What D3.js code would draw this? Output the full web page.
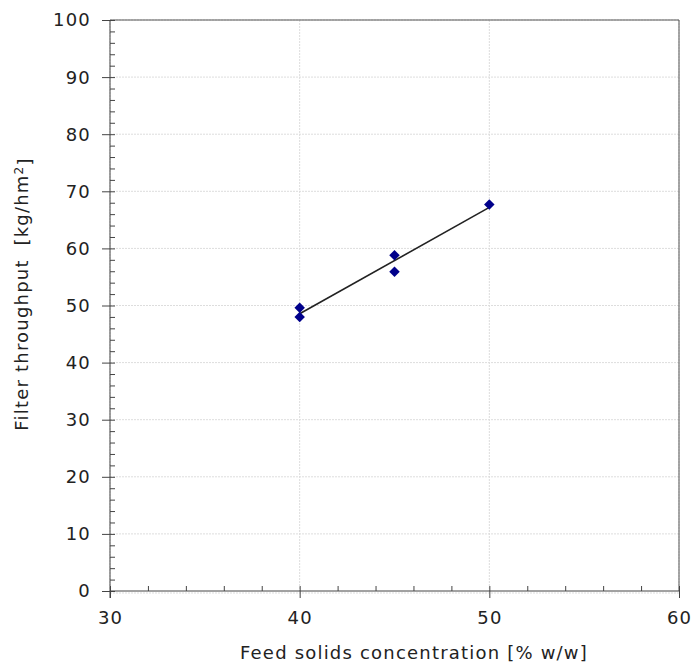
<!DOCTYPE html>
<html>
<head>
<meta charset="utf-8">
<script src="https://cdn.jsdelivr.net/npm/d3@7"></script>
<style>
  body { margin: 0; background: #fff; }
  text { font-family: "DejaVu Sans", Verdana, sans-serif; fill: #222; letter-spacing: 1.2px; }
</style>
</head>
<body>
<div id="chart"></div>
<script>
// measured points
var concentration = [40, 40, 45, 45, 50];
var throughput = [49.6, 48.0, 58.8, 55.9, 67.7];
var xTicks = [30, 40, 50, 60];
var yTicks = [0, 10, 20, 30, 40, 50, 60, 70, 80, 90, 100];

var W = 694, H = 664;
var pLeft = 110, pRight = 679, pTop = 20, pBottom = 591;

var svg = d3.select("#chart").append("svg")
    .attr("width", W).attr("height", H);

var x = d3.scaleLinear().domain([30, 60]).range([pLeft, pRight]);
var y = d3.scaleLinear().domain([0, 100]).range([pBottom, pTop]);

// grid
svg.append("g").selectAll("line").data(xTicks).enter().append("line")
    .attr("x1", function(d) { return x(d); }).attr("x2", function(d) { return x(d); })
    .attr("y1", pTop).attr("y2", pBottom)
    .attr("stroke", "#ddd").attr("stroke-dasharray", "2,1");
svg.append("g").selectAll("line").data(yTicks).enter().append("line")
    .attr("y1", function(d) { return y(d) + (d === 0 ? 2 : 0); })
    .attr("y2", function(d) { return y(d) + (d === 0 ? 2 : 0); })
    .attr("x1", pLeft).attr("x2", pRight)
    .attr("stroke", "#ddd").attr("stroke-dasharray", "2,1");

// frame
svg.append("line").attr("x1", pLeft).attr("x2", pRight).attr("y1", pTop).attr("y2", pTop)
    .attr("stroke", "#555");
svg.append("line").attr("x1", pRight).attr("x2", pRight).attr("y1", pTop).attr("y2", pBottom)
    .attr("stroke", "#555");

// x axis: majors cross, minors inside
var xa = svg.append("g").attr("transform", "translate(0," + pBottom + ")");
xa.call(d3.axisBottom(x).tickValues(d3.range(30, 61, 2)).tickSize(-5).tickFormat(""));
xa.selectAll(".tick").filter(function(d) { return d % 10 === 0; }).select("line")
    .attr("y1", -5).attr("y2", 7);
xa.select(".domain").remove();
xa.append("line").attr("x1", pLeft).attr("x2", pRight);
xa.selectAll("line").attr("stroke", "#444");
xa.selectAll("text.lbl").data(xTicks).enter().append("text").attr("class", "lbl")
    .attr("x", function(d) { return x(d) + 0.6; }).attr("y", 33)
    .attr("text-anchor", "middle").style("font-size", "18px").text(function(d) { return d; });

// y axis
var ya = svg.append("g").attr("transform", "translate(" + pLeft + ",0)");
ya.call(d3.axisLeft(y).tickValues(d3.range(0, 101, 2)).tickSize(-5).tickFormat(""));
ya.selectAll(".tick").filter(function(d) { return d % 10 === 0; }).select("line")
    .attr("x1", 5).attr("x2", -8);
ya.select(".domain").remove();
ya.append("line").attr("y1", pTop).attr("y2", pBottom + 7);
ya.selectAll("line").attr("stroke", "#444");
ya.selectAll("text.lbl").data(yTicks).enter().append("text").attr("class", "lbl")
    .attr("x", -19).attr("y", function(d) { return y(d); }).attr("dy", "0.36em")
    .attr("text-anchor", "end").style("font-size", "18px").text(function(d) { return d; });

// trend line (least squares)
var mx = d3.mean(concentration), my = d3.mean(throughput);
var sxy = d3.sum(concentration, function(c, i) { return (c - mx) * (throughput[i] - my); });
var sxx = d3.sum(concentration, function(c) { return (c - mx) * (c - mx); });
var slope = sxy / sxx, icpt = my - slope * mx;
var x0 = d3.min(concentration), x1 = d3.max(concentration);
svg.append("line")
    .attr("x1", x(x0)).attr("y1", y(icpt + slope * x0))
    .attr("x2", x(x1)).attr("y2", y(icpt + slope * x1))
    .attr("stroke", "#222").attr("stroke-width", 1.6);

// points
var pts = concentration.map(function(c, i) { return [c, throughput[i]]; });
svg.append("g").selectAll("path").data(pts).enter().append("path")
    .attr("d", d3.symbol().type(d3.symbolDiamond2).size(70))
    .attr("transform", function(d) { return "translate(" + x(d[0]) + "," + y(d[1]) + ")"; })
    .attr("fill", "#00008b");

// titles
svg.append("text").attr("x", 414).attr("y", 659)
    .attr("text-anchor", "middle").style("font-size", "18px")
    .text("Feed solids concentration [% w/w]");
var yt = svg.append("text").attr("transform", "translate(28,294) rotate(-90)")
    .attr("text-anchor", "middle").style("font-size", "18px")
    .style("white-space", "pre").attr("xml:space", "preserve");
yt.append("tspan").text("Filter throughput  [kg/hm");
yt.append("tspan").attr("dy", "-0.45em").style("font-size", "12px").text("2");
yt.append("tspan").attr("dy", "0.45em").text("]");
</script>
</body>
</html>
